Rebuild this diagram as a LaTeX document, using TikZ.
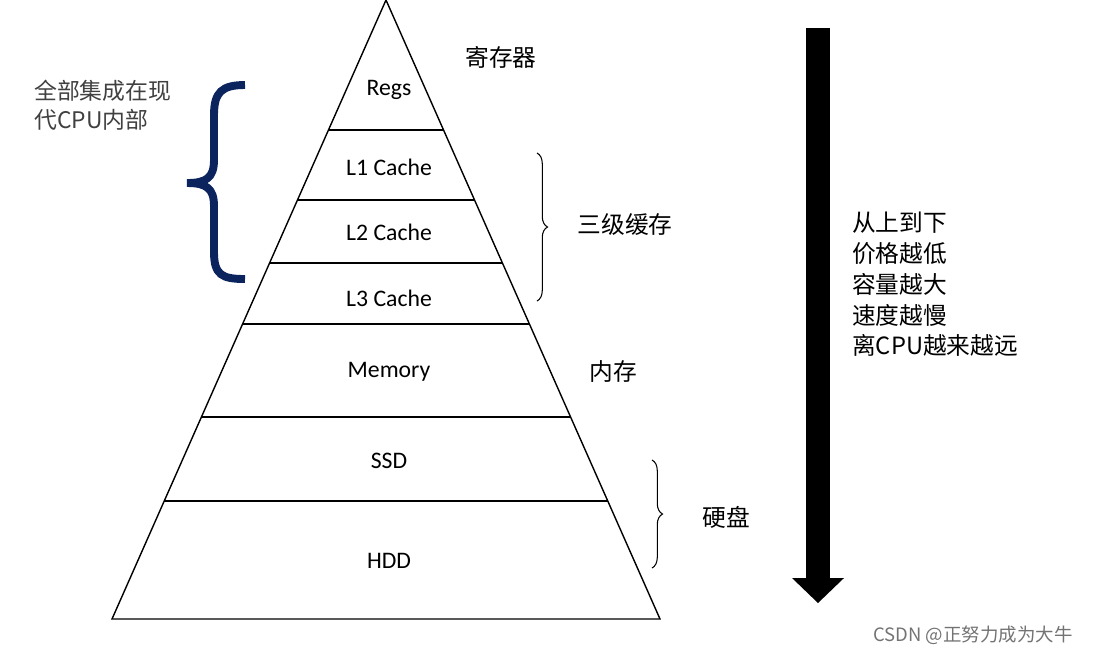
\documentclass[tikz,border=0pt]{standalone}
\usepackage{fontspec}
\setmainfont{Carlito}
\newfontfamily\cjk{Noto Sans CJK SC}
\usetikzlibrary{calc,decorations.pathreplacing}
\definecolor{navy}{RGB}{12,36,94}
\tikzset{
  lvl/.style={font=\fontsize{13.5}{15}\selectfont},
  zh/.style={font=\cjk\fontsize{13.5}{17.5}\selectfont, align=left},
  thinbrace/.style={decorate,decoration={brace,amplitude=6pt},line width=0.6pt}
}
\begin{document}
\begin{tikzpicture}[x=0.02cm,y=-0.02cm]
\useasboundingbox (0,0) rectangle (1094,654);
%pyramid
\coordinate (apex) at (386,0);
\coordinate (bl) at (112,619);
\coordinate (br) at (660,619);
\draw[line width=0.8pt] (apex) -- (bl) -- (br) -- cycle;
\foreach \y in {130,200,263,324,417,501}
  \draw[line width=0.8pt] ($(apex)!\y/619!(bl)$) -- ($(apex)!\y/619!(br)$);
%levels
\path (389,90) node[lvl] (regs) {Regs}
	(389,167) node[lvl] (l1) {L1 Cache}
	(389,232) node[lvl] (l2) {L2 Cache}
	(389,298) node[lvl] (l3) {L3 Cache}
	(389,372) node[lvl] (mem) {Memory}
	(389,461) node[lvl] (ssd) {SSD}
	(389,561) node[lvl] (hdd) {HDD};
%labels
\node[zh] (reg) at (501,57) {寄存器};
\node[zh] (neicun) at (613,371) {内存};
\node[zh] (cache) at (625,224) {三级缓存};
\node[zh] (disk) at (726,517) {硬盘};
\draw[thinbrace] (537,153) -- (537,301);
\draw[thinbrace] (652,460) -- (652,568);
%cpu
\node[zh,anchor=north west,font=\cjk\fontsize{13}{16.5}\selectfont,text=black!75] (cpu) at (28,74) {全部集成在现\\代CPU内部};
\draw[navy,line width=4.5pt] (245,85) .. controls (222,85) and (214,92) .. (214,115)
	-- (214,160) .. controls (214,178) and (206,183) .. (187,183)
	.. controls (206,183) and (214,188) .. (214,206)
	-- (214,252) .. controls (214,275) and (222,279) .. (245,279);
%arrow
\fill (806,28) rectangle (830,578);
\fill (792,578) -- (844,578) -- (818,603) -- cycle;
\node[zh,anchor=north west] (order) at (846,206) {从上到下\\价格越低\\容量越大\\速度越慢\\离CPU越来越远};
\node[font=\cjk\fontsize{10.5}{12}\selectfont,text=black!55] (mark) at (973,635) {CSDN @正努力成为大牛};
\end{tikzpicture}
\end{document}
